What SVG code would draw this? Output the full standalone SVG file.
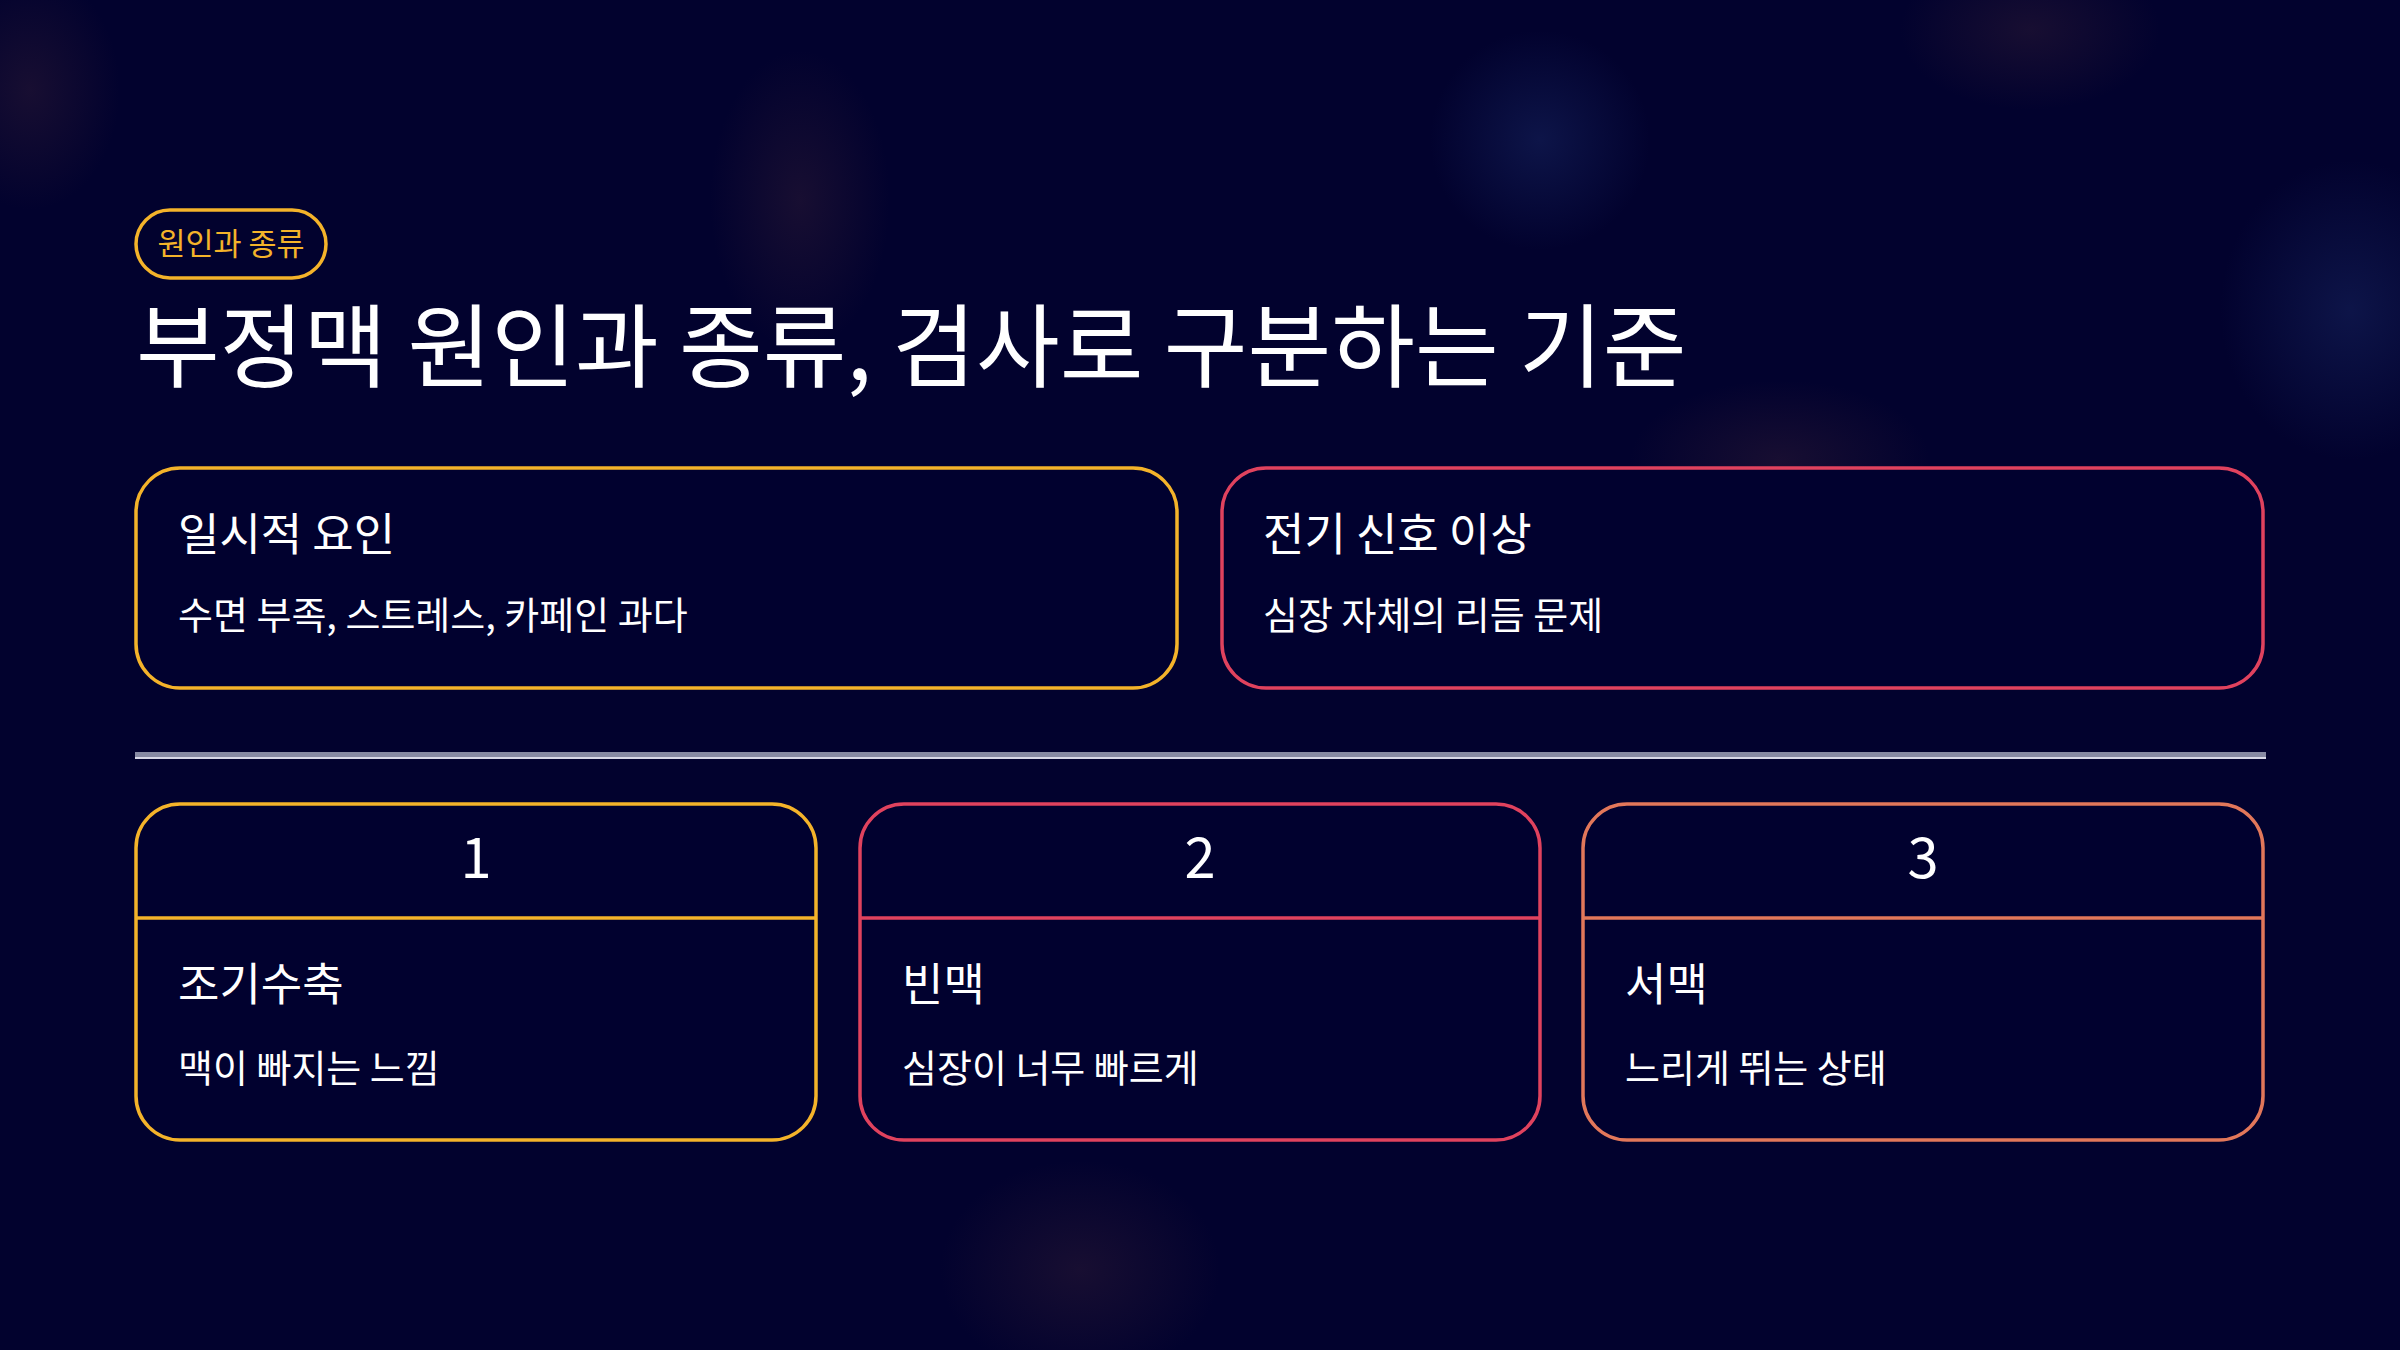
<svg xmlns="http://www.w3.org/2000/svg" width="2400" height="1350" viewBox="0 0 2400 1350">
<style>
text{font-family:"Noto Sans CJK KR","DejaVu Sans",sans-serif;fill:#ffffff}
.pilltxt{font-size:30.5px;fill:#f4b32a}
.title{font-size:91px}
.h{font-size:45px}
.s{font-size:38px}
.num{font-size:56px;text-anchor:middle}
.card{fill:#01012f;stroke-width:3.5}
</style>
<defs>
<radialGradient id="g1"><stop offset="0" stop-color="#4a2a3a" stop-opacity="0.3"/><stop offset="1" stop-color="#4a2a3a" stop-opacity="0"/></radialGradient>
<radialGradient id="g2"><stop offset="0" stop-color="#1e3070" stop-opacity="0.4"/><stop offset="1" stop-color="#1e3070" stop-opacity="0"/></radialGradient>
</defs>
<rect width="2400" height="1350" fill="#02022e"/>
<g id="background">
<ellipse cx="800" cy="200" rx="90" ry="150" fill="url(#g1)"/>
<ellipse cx="1540" cy="140" rx="110" ry="110" fill="url(#g2)"/>
<ellipse cx="2350" cy="310" rx="130" ry="150" fill="url(#g2)"/>
<ellipse cx="2030" cy="30" rx="130" ry="80" fill="url(#g1)"/>
<ellipse cx="30" cy="90" rx="90" ry="120" fill="url(#g1)"/>
<ellipse cx="1080" cy="1270" rx="140" ry="110" fill="url(#g1)"/>
<ellipse cx="1780" cy="460" rx="150" ry="80" fill="url(#g1)"/>
</g>
<g id="tag">
<rect x="136" y="210" width="190" height="68" rx="34" fill="none" stroke="#f4b32a" stroke-width="3.5"/>
<text class="pilltxt" x="231" y="255" text-anchor="middle">원인과 종류</text>
</g>
<g id="title">
<text class="title" x="136" y="380">부정맥 원인과 종류, 검사로 구분하는 기준</text>
</g>
<g id="card-temporary">
<rect class="card" x="136" y="468" width="1041" height="220" rx="44" stroke="#f4b32a"/>
<text class="h" x="178" y="551">일시적 요인</text>
<text class="s" x="178" y="629">수면 부족, 스트레스, 카페인 과다</text>
</g>
<g id="card-electrical">
<rect class="card" x="1222" y="468" width="1041" height="220" rx="44" stroke="#e0425e"/>
<text class="h" x="1263" y="551">전기 신호 이상</text>
<text class="s" x="1263" y="629">심장 자체의 리듬 문제</text>
</g>
<g id="divider">
<rect x="135" y="752" width="2131" height="5" fill="#878aa2"/>
<rect x="135" y="757" width="2131" height="2" fill="#d8d8e6"/>
</g>
<g id="type-1">
<rect class="card" x="136" y="804" width="680" height="336" rx="44" stroke="#f4b32a"/>
<line x1="136" y1="918" x2="816" y2="918" stroke="#f4b32a" stroke-width="3.5"/>
<text class="num" x="476" y="878">1</text>
<text class="h" x="178" y="1001">조기수축</text>
<text class="s" x="178" y="1082">맥이 빠지는 느낌</text>
</g>
<g id="type-2">
<rect class="card" x="860" y="804" width="680" height="336" rx="44" stroke="#e0425e"/>
<line x1="860" y1="918" x2="1540" y2="918" stroke="#e0425e" stroke-width="3.5"/>
<text class="num" x="1200" y="878">2</text>
<text class="h" x="902" y="1001">빈맥</text>
<text class="s" x="902" y="1082">심장이 너무 빠르게</text>
</g>
<g id="type-3">
<rect class="card" x="1583" y="804" width="680" height="336" rx="44" stroke="#e2775a"/>
<line x1="1583" y1="918" x2="2263" y2="918" stroke="#e2775a" stroke-width="3.5"/>
<text class="num" x="1923" y="878">3</text>
<text class="h" x="1625" y="1001">서맥</text>
<text class="s" x="1625" y="1082">느리게 뛰는 상태</text>
</g>
</svg>
